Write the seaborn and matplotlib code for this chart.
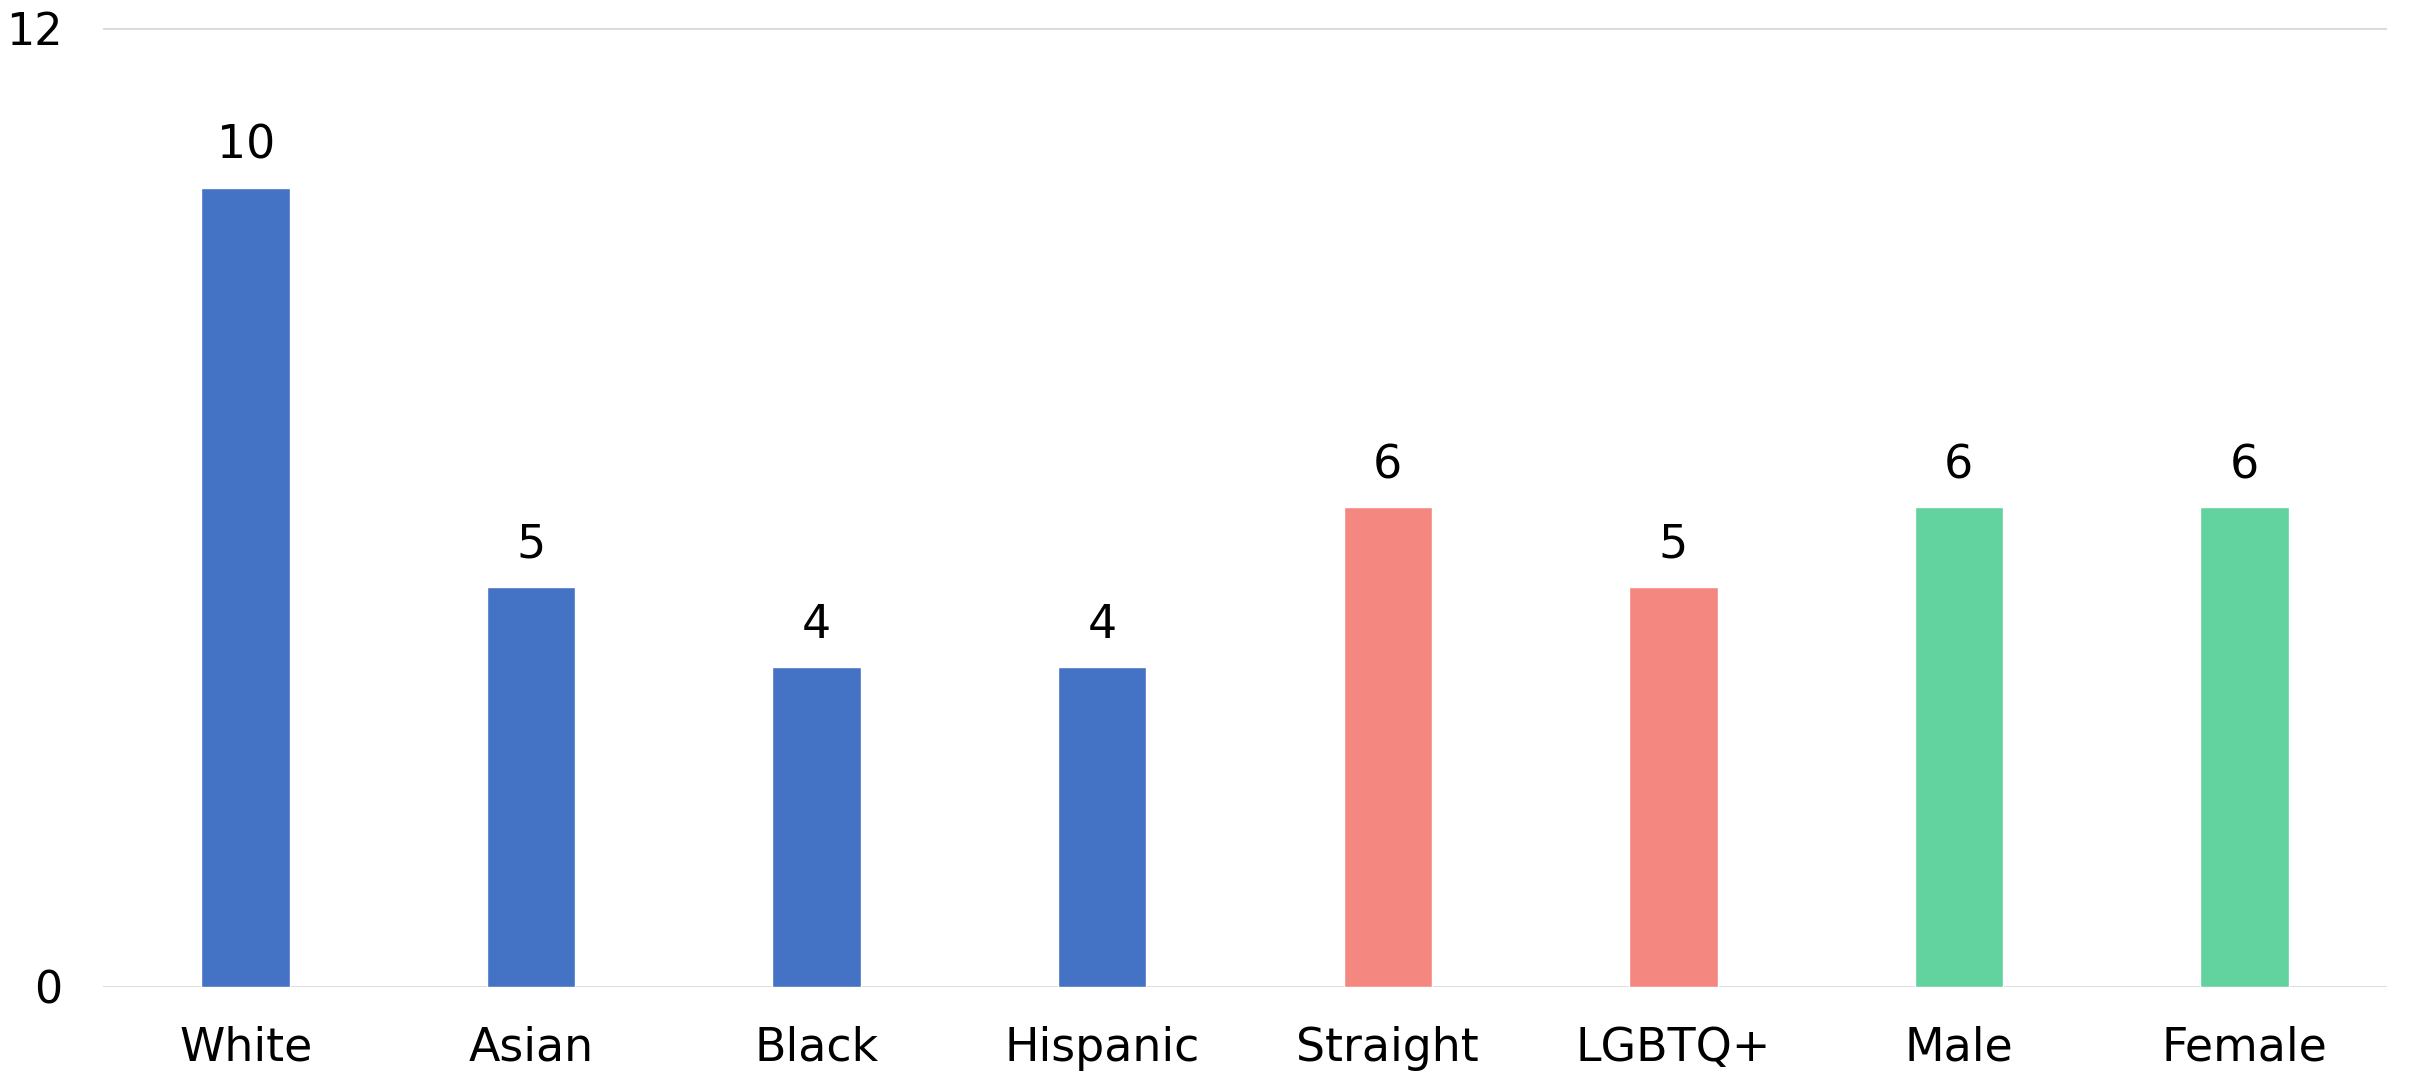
import matplotlib
matplotlib.use("Agg")
import matplotlib.pyplot as plt
import seaborn as sns
import pandas as pd

categories = ["White", "Asian", "Black", "Hispanic", "Straight", "LGBTQ+", "Male", "Female"]
values = [10, 5, 4, 4, 6, 5, 6, 6]
groups = ["Race", "Race", "Race", "Race", "Orientation", "Orientation", "Gender", "Gender"]
group_colors = {"Race": "#4472C4", "Orientation": "#F4877F", "Gender": "#62D29E"}
y_ticks = [0, 12]

df = pd.DataFrame({"category": categories, "value": values, "group": groups})

sns.set_theme(style="white")
plt.rcParams["font.family"] = ["DejaVu Sans"]

fig = plt.figure(figsize=(24.1, 10.75), dpi=100)
ax = fig.add_axes([0.0427, 0.0819, 0.9478, 0.8921])

sns.barplot(data=df, x="category", y="value", hue="group", palette=group_colors,
            dodge=False, width=0.31, legend=False, ax=ax, saturation=1)

ax.set_ylim(0, 12)
ax.set_xlim(-0.5, len(categories) - 0.5)
ax.set_yticks(y_ticks)
ax.yaxis.grid(True, color="#D9D9D9", linewidth=2)
ax.set_axisbelow(True)
for s in ["top", "right", "left", "bottom"]:
    ax.spines[s].set_visible(False)
ax.set_xlabel("")
ax.set_ylabel("")
ax.tick_params(axis="y", length=0, pad=29, labelsize=32, labelcolor="#000000")
ax.tick_params(axis="x", length=0, pad=28, labelsize=33, labelcolor="#000000")

for container in ax.containers:
    ax.bar_label(container, fmt="%g", padding=14, fontsize=33, color="#000000")

fig.savefig("out.png", dpi=100, facecolor="white")
